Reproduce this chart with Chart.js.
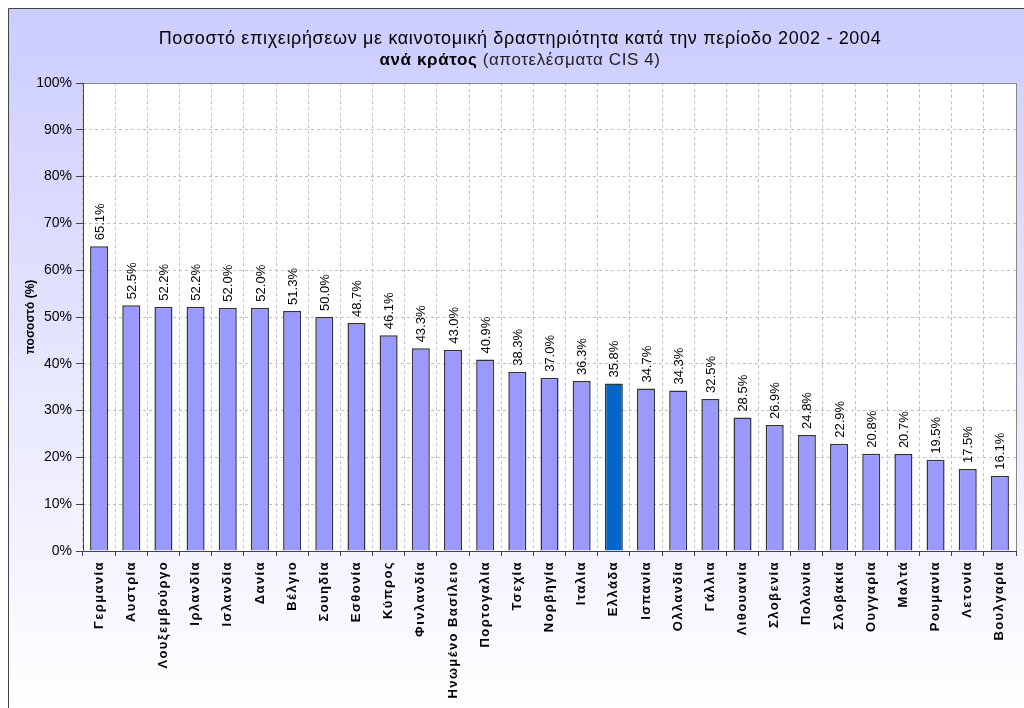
<!DOCTYPE html>
<html><head><meta charset="utf-8">
<script src="https://cdn.jsdelivr.net/npm/chart.js@4"></script>
<style>
html,body{margin:0;padding:0;background:#fff;}
#wrap{position:relative;width:1024px;height:708px;overflow:hidden;}
canvas{position:absolute;left:0;top:0;}
.t{position:absolute;left:8px;width:1024px;text-align:center;font-family:"Liberation Sans",Arial,sans-serif;color:#000;white-space:nowrap;}
#t1{top:28px;font-size:18px;line-height:20px;letter-spacing:0.65px;}
#t2{top:50px;font-size:17px;line-height:20px;letter-spacing:0.6px;}
</style></head>
<body><div id="wrap"><canvas id="c" width="1024" height="708"></canvas>
<div class="t" id="t1">Ποσοστό επιχειρήσεων με καινοτομική δραστηριότητα κατά την περίοδο 2002 - 2004</div>
<div class="t" id="t2"><b>ανά κράτος</b> <span style="color:#222">(αποτελέσματα CIS 4)</span></div></div>
<script>
const categories = ['Γερμανία','Αυστρία','Λουξεμβούργο','Ιρλανδία','Ισλανδία','Δανία','Βέλγιο','Σουηδία','Εσθονία','Κύπρος','Φινλανδία','Ηνωμένο Βασίλειο','Πορτογαλία','Τσεχία','Νορβηγία','Ιταλία','Ελλάδα','Ισπανία','Ολλανδία','Γάλλια','Λιθουανία','Σλοβενία','Πολωνία','Σλοβακία','Ουγγαρία','Μαλτά','Ρουμανία','Λετονία','Βουλγαρία'];
const values = [65.1,52.5,52.2,52.2,52.0,52.0,51.3,50.0,48.7,46.1,43.3,43.0,40.9,38.3,37.0,36.3,35.8,34.7,34.3,32.5,28.5,26.9,24.8,22.9,20.8,20.7,19.5,17.5,16.1];
const highlighted = 'Ελλάδα';
const yAxisTitle = 'ποσοστό (%)';

const FONT = '"Liberation Sans", Arial, sans-serif';
const colors = categories.map(c => c === highlighted ? '#0066cc' : '#9999ff');

const bgPlugin = {
  id: 'bg',
  afterLayout(chart) {
    const s = chart.scales.x;
    if (s && !s._ls) {
      const orig = s.drawLabels;
      s.drawLabels = function (a) {
        const c = this.ctx;
        const prev = c.letterSpacing;
        c.letterSpacing = '1.4px';
        orig.call(this, a);
        c.letterSpacing = prev || '0px';
      };
      s._ls = true;
    }
  },
  beforeDraw(chart) {
    const ctx = chart.ctx, a = chart.chartArea;
    ctx.save();
    ctx.fillStyle = '#fff';
    ctx.fillRect(0, 0, chart.width, chart.height);
    const g = ctx.createLinearGradient(0, 8, 0, 708);
    g.addColorStop(0, '#ccccff');
    g.addColorStop(1, '#ffffff');
    ctx.fillStyle = g;
    ctx.fillRect(8, 8, chart.width - 8, chart.height - 8);
    ctx.strokeStyle = '#444';
    ctx.lineWidth = 1;
    ctx.beginPath();
    ctx.moveTo(8.5, chart.height); ctx.lineTo(8.5, 8.5); ctx.lineTo(chart.width, 8.5);
    ctx.stroke();
    ctx.fillStyle = '#fff';
    ctx.fillRect(a.left, a.top, a.right - a.left, a.bottom - a.top);
    ctx.restore();
  },
  afterDraw(chart) {
    const ctx = chart.ctx, a = chart.chartArea;
    ctx.save();
    ctx.lineWidth = 1;
    ctx.strokeStyle = '#888';
    ctx.beginPath();
    ctx.moveTo(a.left, a.top + 0.5); ctx.lineTo(a.right + 0.5, a.top + 0.5); ctx.lineTo(a.right + 0.5, a.bottom);
    ctx.stroke();
    ctx.strokeStyle = '#444';
    ctx.beginPath();
    ctx.moveTo(a.left + 0.5, a.top); ctx.lineTo(a.left + 0.5, a.bottom + 0.5); ctx.lineTo(a.right + 0.5, a.bottom + 0.5);
    ctx.stroke();
    ctx.restore();
  }
};

const labelPlugin = {
  id: 'vals',
  afterDatasetsDraw(chart) {
    const ctx = chart.ctx, meta = chart.getDatasetMeta(0);
    ctx.save();
    ctx.letterSpacing = '0px';
    ctx.font = '13px ' + FONT;
    ctx.fillStyle = '#000';
    ctx.textAlign = 'left';
    ctx.textBaseline = 'middle';
    meta.data.forEach((bar, i) => {
      ctx.save();
      ctx.translate(bar.x + 1, bar.y - 6);
      ctx.rotate(-Math.PI / 2);
      ctx.fillText(values[i].toFixed(1) + '%', 0, 0);
      ctx.restore();
    });
    ctx.restore();
  }
};

new Chart(document.getElementById('c'), {
  type: 'bar',
  data: {
    labels: categories,
    datasets: [{
      data: values,
      backgroundColor: colors,
      borderColor: '#333',
      borderWidth: 1.5,
      barPercentage: 0.56,
      categoryPercentage: 1
    }]
  },
  options: {
    responsive: false,
    animation: false,
    devicePixelRatio: 1,
    layout: { padding: { top: 83, right: 8, bottom: 0, left: 0 } },
    plugins: { legend: { display: false }, tooltip: { enabled: false }, title: { display: false } },
    scales: {
      x: {
        offset: true,
        grid: { offset: true, color: '#c0c0c0', tickColor: '#444', tickLength: 5, lineWidth: 1 },
        border: { display: false, dash: [3, 3] },
        ticks: { autoSkip: false, minRotation: 90, maxRotation: 90, padding: 5, color: '#000', font: { family: FONT, size: 13, weight: 'bold' } },
        afterFit(s) { s.height = 157; }
      },
      y: {
        min: 0, max: 100,
        grid: { color: '#c0c0c0', tickColor: '#444', tickLength: 7, lineWidth: 1 },
        border: { display: false, dash: [3, 3] },
        ticks: { stepSize: 10, padding: 4, color: '#000', font: { family: FONT, size: 14 }, callback: v => v + '%' },
        title: { display: true, text: yAxisTitle, color: '#000', font: { family: FONT, size: 12, weight: 'bold' }, padding: { top: 23, bottom: 0 } },
        afterFit(s) { s.width = 83; }
      }
    }
  },
  plugins: [bgPlugin, labelPlugin]
});
</script>
</body></html>
